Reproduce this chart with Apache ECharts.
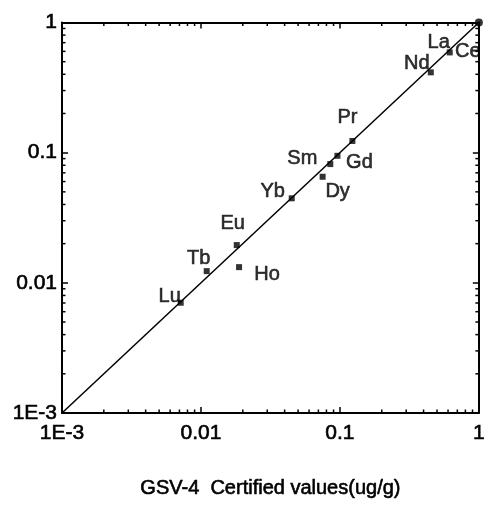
<!DOCTYPE html>
<html>
<head>
<meta charset="utf-8">
<script src="https://cdn.jsdelivr.net/npm/echarts@6/dist/echarts.min.js"></script>
<style>html,body{margin:0;padding:0;background:#fff}#c{width:488px;height:510px}</style>
</head>
<body>
<div id="c"></div>
<script>
// ---- data ----
var elements = ['Ce','La','Nd','Pr','Gd','Sm','Dy','Yb','Eu','Tb','Ho','Lu'];
var certifiedValues = [1.0, 0.617, 0.451, 0.123, 0.096, 0.0853, 0.0751, 0.045, 0.0181, 0.0110, 0.0188, 0.00715];
var measuredValues  = [1.0, 0.589, 0.414, 0.123, 0.0946, 0.0817, 0.0653, 0.0446, 0.0195, 0.0123, 0.0132, 0.00703];
var pointLabels = ['', 'La', 'Nd', 'Pr', 'Gd', 'Sm', 'Dy', 'Yb', 'Eu', 'Tb', 'Ho', 'Lu'];
var extraLabelCe = 'Ce';
var lineX = [0.001, 1];
var lineY = [0.001, 1];
var tickLabels = ['1E-3', '0.01', '0.1', '1'];
var decades = [0.001, 0.01, 0.1];
var minorMultipliers = [2, 3, 4, 5, 6, 7, 8, 9];
var xTitle = 'GSV-4  Certified values(ug/g)';

// ---- style (positions of labels relative to points) ----
var labelOffsets = {
  'La': [-11, -10], 'Nd': [-14, -9], 'Pr': [-5, -23], 'Gd': [22, 7], 'Sm': [-28, -6],
  'Dy': [15, 15], 'Yb': [-19, -7], 'Eu': [-4, -22], 'Tb': [-8, -13], 'Ho': [28, 7], 'Lu': [-11, -6]
};
var FONT = '"Liberation Sans", Arial, sans-serif';
var TXT = { color: '#000', fontFamily: FONT, fontWeight: 'normal', textBorderColor: '#000', textBorderWidth: 0.6 };

function fmt(v) {
  var k = Math.round(Math.log10(v)) + 3;
  return tickLabels[k] !== undefined ? tickLabels[k] : '';
}

var minorTicks = [];
decades.forEach(function (d) { minorMultipliers.forEach(function (m) { minorTicks.push([d * m, d * m]); }); });

function ptLabel(text, off) {
  return Object.assign({ show: true, formatter: text, position: 'inside', offset: off, fontSize: 20 }, TXT);
}

var scatterData = elements.map(function (e, i) {
  var lbl = pointLabels[i];
  var item = { value: [certifiedValues[i], measuredValues[i]], name: e };
  if (lbl) { item.label = ptLabel(lbl, labelOffsets[lbl]); }
  if (i === 0) { item.symbolSize = 8; item.symbol = 'circle'; }
  return item;
});
var ceIdx = 1;

var baseAxis = {
  type: 'log', logBase: 10, min: 0.001, max: 1,
  axisLine: { show: true, lineStyle: { color: '#000', width: 2 } },
  axisTick: { show: true, inside: true, length: 6, lineStyle: { color: '#000', width: 1.5 } },
  splitLine: { show: false },
  minorTick: { show: false }
};

var chart = echarts.init(document.getElementById('c'), null, { renderer: 'canvas' });
chart.setOption({
  animation: false,
  backgroundColor: '#fff',
  grid: { left: 62, right: 8, top: 22.5, bottom: 97, containLabel: false },
  xAxis: [
    Object.assign({}, baseAxis, {
      position: 'bottom',
      axisLabel: Object.assign({ show: true, formatter: fmt, fontSize: 21, margin: 10 }, TXT),
      name: xTitle, nameLocation: 'middle', nameGap: 65,
      nameTextStyle: Object.assign({ fontSize: 20 }, TXT)
    }),
    Object.assign({}, baseAxis, { position: 'top', axisLabel: { show: false } })
  ],
  yAxis: [
    Object.assign({}, baseAxis, {
      position: 'left',
      axisLabel: Object.assign({ show: true, formatter: fmt, fontSize: 21, margin: 5 }, TXT)
    }),
    Object.assign({}, baseAxis, { position: 'right', axisLabel: { show: false } })
  ],
  series: [
    {
      type: 'line', xAxisIndex: 0, yAxisIndex: 0,
      data: [[lineX[0], lineY[0]], [lineX[1], lineY[1]]],
      symbol: 'none', lineStyle: { color: '#000', width: 1.5 }, silent: true, z: 2
    },
    {
      type: 'scatter', xAxisIndex: 0, yAxisIndex: 0,
      symbol: 'rect', symbolSize: 6,
      itemStyle: { color: '#000' },
      data: scatterData, z: 3
    },
    {
      type: 'scatter', xAxisIndex: 0, yAxisIndex: 0,
      symbolSize: 0,
      data: [{ value: [certifiedValues[ceIdx], measuredValues[ceIdx]], label: ptLabel(extraLabelCe, [18, -1]) }],
      z: 3
    },
    {
      type: 'custom', xAxisIndex: 0, yAxisIndex: 0, clip: false, silent: true,
      data: minorTicks,
      renderItem: function (params, api) {
        var cs = params.coordSys;
        var v = api.value(0);
        var px = api.coord([v, 1])[0];
        var py = api.coord([1, v])[1];
        var L = 3.5;
        var st = { stroke: '#000', lineWidth: 1.5 };
        return {
          type: 'group',
          children: [
            { type: 'line', shape: { x1: px, y1: cs.y + cs.height, x2: px, y2: cs.y + cs.height - L }, style: st },
            { type: 'line', shape: { x1: px, y1: cs.y, x2: px, y2: cs.y + L }, style: st },
            { type: 'line', shape: { x1: cs.x, y1: py, x2: cs.x + L, y2: py }, style: st },
            { type: 'line', shape: { x1: cs.x + cs.width, y1: py, x2: cs.x + cs.width - L, y2: py }, style: st }
          ]
        };
      }
    }
  ]
});
</script>
</body>
</html>
